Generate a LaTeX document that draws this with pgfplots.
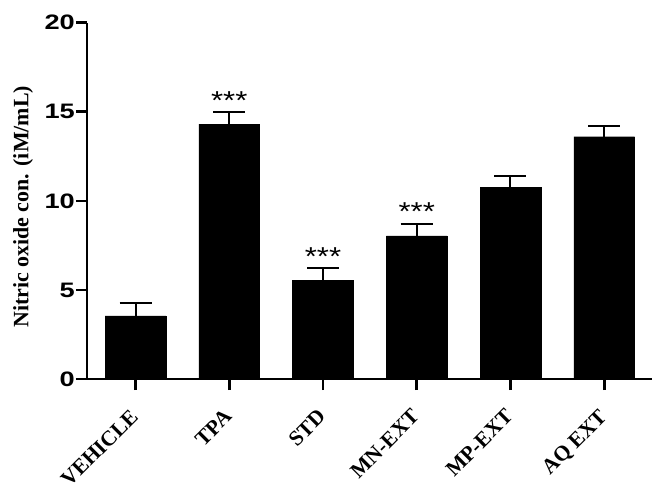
\documentclass[border=0pt]{standalone}
\usepackage{fontspec}
\setmainfont{Liberation Serif}
\newfontfamily\arial{Liberation Sans}
\usepackage{pgfplots}
\pgfplotsset{compat=1.18}
\begin{document}
\begin{tikzpicture}
\useasboundingbox (-87bp,-115bp) rectangle (573bp,379bp);
\begin{axis}[
  scale only axis, width=565bp, height=356.3bp,
  xmin=-0.518, xmax=5.51, ymin=0, ymax=20,
  axis lines*=left,
  axis line style={line width=2.6bp},
  tick style={line width=2.6bp, black},
  tick align=outside,
  major tick length=11bp,
  /pgf/number format/assume math mode=true,
  xtick={0,1,2,3,4,5},
  xticklabels={VEHICLE,TPA,STD,MN-EXT,MP-EXT,AQ EXT},
  ytick={0,5,10,15,20},
  yticklabel={\scalebox{1.3}[1]{\pgfmathprintnumber{\tick}}},
  yticklabel style={font=\arial\bfseries\fontsize{21}{24}\selectfont, inner sep=1bp},
  xticklabel style={font=\bfseries\fontsize{21.5}{24}\selectfont, rotate=45, anchor=north east, inner sep=0bp, yshift=-8bp, xshift=-17bp},
  ylabel={Nitric oxide con. (iM/mL)},
  every axis y label/.style={at={(axis description cs:0,0.5)}, xshift=-64bp, yshift=-6bp, rotate=90, anchor=center, font=\bfseries\fontsize{22}{24}\selectfont, inner sep=0bp},
  clip=false,
]
\addplot[ybar, bar width=60.7bp, fill=black, draw=black,
  error bars/.cd, y dir=plus, y explicit,
  error bar style={line width=2bp, black},
  error mark options={rotate=90, mark size=16bp, line width=2bp, black}]
  coordinates {
  (0,3.54) +- (0,0.71)
  (1,14.31) +- (0,0.67)
  (2,5.52) +- (0,0.70)
  (3,8.03) +- (0,0.69)
  (4,10.77) +- (0,0.62)
  (5,13.60) +- (0,0.61)
  };
\node[anchor=base, inner sep=0pt, yshift=3bp, font=\arial\fontsize{26}{28}\selectfont] at (axis cs:1,14.98) {\scalebox{1.2}[1]{***}};
\node[anchor=base, inner sep=0pt, yshift=3bp, font=\arial\fontsize{26}{28}\selectfont] at (axis cs:2,6.22) {\scalebox{1.2}[1]{***}};
\node[anchor=base, inner sep=0pt, yshift=3bp, font=\arial\fontsize{26}{28}\selectfont] at (axis cs:3,8.72) {\scalebox{1.2}[1]{***}};
\end{axis}
\end{tikzpicture}
\end{document}
